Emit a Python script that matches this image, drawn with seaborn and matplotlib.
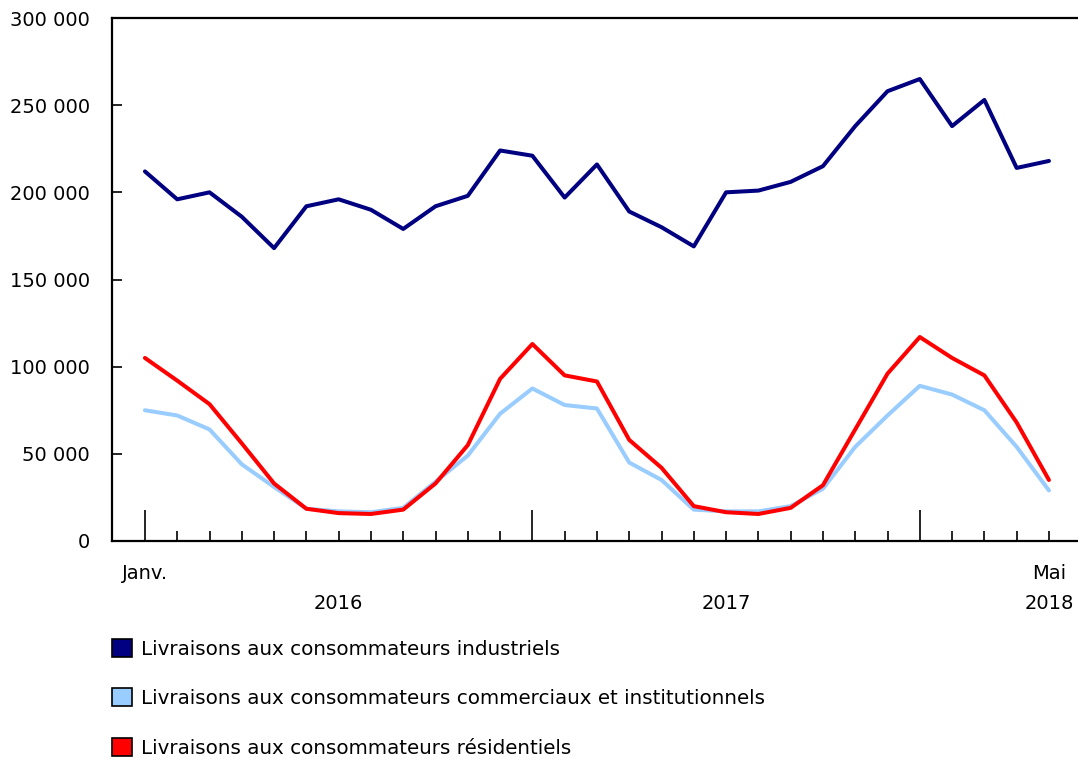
import numpy as np
import pandas as pd
import matplotlib
matplotlib.use("Agg")
import matplotlib.pyplot as plt
from matplotlib.patches import Patch
from matplotlib.ticker import FuncFormatter, MultipleLocator
import seaborn as sns

# monthly deliveries, Jan 2016 - May 2018
months = pd.period_range("2016-01", "2018-05", freq="M").astype(str).tolist()
industriels = [212, 196, 200, 186, 168, 192, 196, 190, 179, 192, 198, 224, 221, 197, 216,
               189, 180, 169, 200, 201, 206, 215, 238, 258, 265, 238, 253, 214, 218]
commerciaux = [75, 72, 64, 44, 31, 18.5, 17, 16.5, 19, 34, 49, 73, 87.5, 78, 76,
               45, 35, 18, 17, 17, 20, 30, 54, 72, 89, 84, 75, 54, 29]
residentiels = [105, 92, 78.5, 56, 33, 18.5, 16, 15.5, 18, 33, 55, 93, 113, 95, 91.5,
                58, 42, 20, 16.5, 15.5, 19, 32, 64, 96, 117, 105, 95, 68, 35]

noms = ["Livraisons aux consommateurs industriels",
        "Livraisons aux consommateurs commerciaux et institutionnels",
        "Livraisons aux consommateurs résidentiels"]
couleurs = ["#000080", "#99CCFF", "#FF0000"]

df = pd.DataFrame({"mois": np.arange(len(months)),
                   noms[0]: np.array(industriels) * 1000,
                   noms[1]: np.array(commerciaux) * 1000,
                   noms[2]: np.array(residentiels) * 1000})
long = df.melt(id_vars="mois", var_name="serie", value_name="valeur")

sns.set_style("white")
plt.rcParams["font.family"] = ["DejaVu Sans"]
plt.rcParams["text.color"] = "black"

fig = plt.figure(figsize=(10.78, 7.59), dpi=100)
ax = fig.add_axes([112 / 1078, 1 - 541 / 759, 1 - 112 / 1078, (541 - 18) / 759])

sns.lineplot(data=long, x="mois", y="valeur", hue="serie", hue_order=noms,
             palette=couleurs, linewidth=2.9, ax=ax, legend=False)

ax.set_xlim(-1.02, 28.9)
ax.set_ylim(0, 300000)
ax.yaxis.set_major_locator(MultipleLocator(50000))
ax.yaxis.set_major_formatter(FuncFormatter(lambda v, p: f"{int(v):,}".replace(",", " ")))
ax.tick_params(axis="y", left=True, direction="in", length=7, width=1.2, labelsize=14,
               pad=16, colors="black")

# month ticks, tall ones at each January
ax.set_xticks([i for i in range(len(months)) if not months[i].endswith("-01")], minor=True)
ax.set_xticks([i for i in range(len(months)) if months[i].endswith("-01")])
ax.set_xticklabels([])
ax.tick_params(axis="x", which="minor", bottom=True, direction="in", length=7, width=1.2,
               colors="black")
ax.tick_params(axis="x", which="major", bottom=True, direction="in", length=22, width=1.2,
               colors="black")
ax.set_xlabel("")
ax.set_ylabel("")

for s in ["left", "bottom", "top"]:
    ax.spines[s].set_color("black")
    ax.spines[s].set_linewidth(1.6)
ax.spines["right"].set_visible(False)

tr = ax.get_xaxis_transform()
ax.text(0, -0.063, "Janv.", transform=tr, ha="center", va="center", fontsize=14)
ax.text(28, -0.063, "Mai", transform=tr, ha="center", va="center", fontsize=14)
ax.text(6, -0.12, "2016", transform=tr, ha="center", va="center", fontsize=14)
ax.text(18, -0.12, "2017", transform=tr, ha="center", va="center", fontsize=14)
ax.text(28, -0.12, "2018", transform=tr, ha="center", va="center", fontsize=14)

handles = [Patch(facecolor=c, edgecolor="black", linewidth=1.2) for c in couleurs]
leg = fig.legend(handles, noms, loc="upper left", bbox_to_anchor=(112 / 1078, 1 - 639 / 759),
                 frameon=False, fontsize=14.3, handlelength=1.0, handleheight=1.0,
                 handletextpad=0.45, labelspacing=1.5, borderpad=0, borderaxespad=0)
for t in leg.get_texts():
    t.set_color("black")

fig.savefig("out.png", dpi=100)
